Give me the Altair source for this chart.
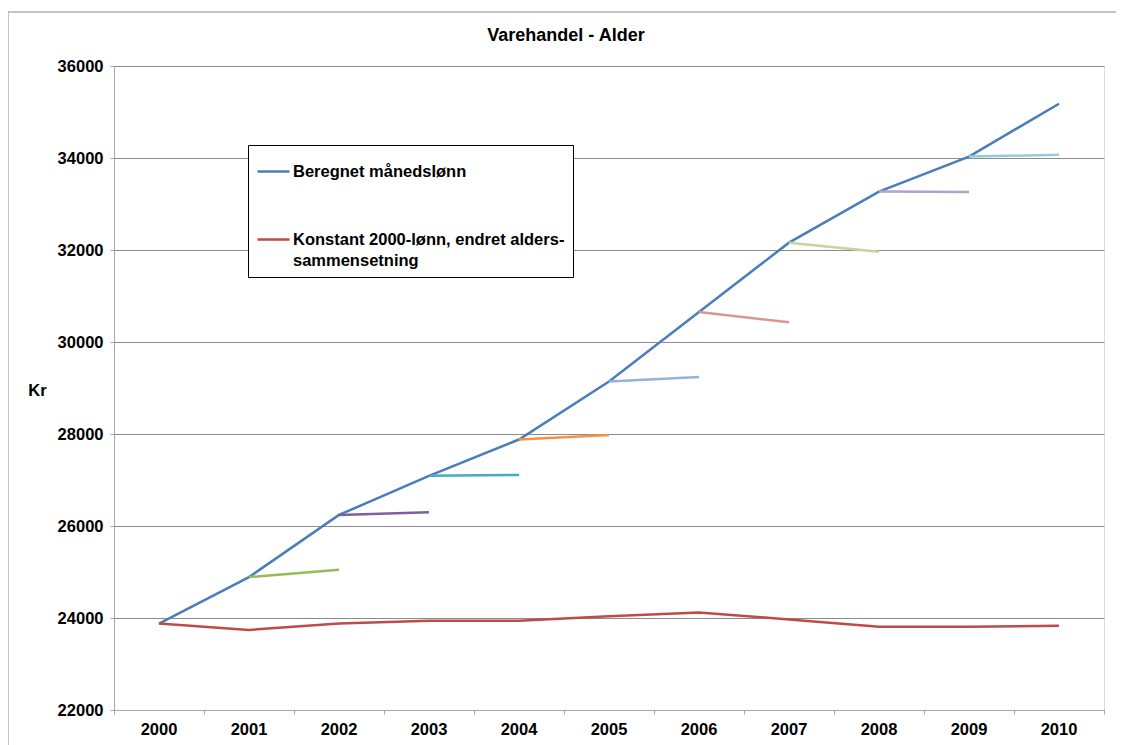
import altair as alt
import pandas as pd

years = [str(y) for y in range(2000, 2011)]
beregnet = [23880, 24890, 26240, 27090, 27880, 29140, 30650, 32160, 33270, 34030, 35180]
konstant = [23880, 23740, 23880, 23940, 23940, 24040, 24120, 23970, 23810, 23810, 23830]
seg_start_years = years[1:10]
seg_end_values = [25050, 26300, 27110, 27980, 29240, 30430, 31960, 33260, 34070]
seg_colors = ["#98B954", "#7D60A0", "#46AAC5", "#F69240", "#95B3D7",
              "#D99694", "#C3D69B", "#B3A2C7", "#93CDDD"]

S1 = "Beregnet månedslønn"
S2 = "Konstant 2000-lønn, endret alders-sammensetning"
main_colors = ["#4A7EBB", "#BE4B48"]
TITLE = "Varehandel - Alder"

rows = []
for y, v in zip(years, beregnet):
    rows.append({"year": y, "value": v, "series": S1})
for y, v in zip(years, konstant):
    rows.append({"year": y, "value": v, "series": S2})
seg_names = []
for i, y in enumerate(seg_start_years):
    name = "seg" + y
    seg_names.append(name)
    j = years.index(y)
    rows.append({"year": y, "value": beregnet[j], "series": name})
    rows.append({"year": years[j + 1], "value": seg_end_values[i], "series": name})
df = pd.DataFrame(rows)

FONT = "Liberation Sans"
FS = 16.5

color = alt.Color(
    "series:N",
    scale=alt.Scale(domain=[S1, S2] + seg_names, range=main_colors + seg_colors),
    legend=alt.Legend(
        values=[S1, S2],
        orient="none",
        legendX=134,
        legendY=79,
        title=" ",
        titleFontSize=1,
        titlePadding=0,
        padding=8,
        strokeColor="#000000",
        fillColor="#ffffff",
        symbolType="stroke",
        symbolSize=1024,
        symbolStrokeWidth=2.5,
        labelFont=FONT,
        labelFontSize=FS,
        labelFontWeight="bold",
        labelColor="#000000",
        labelOffset=2,
        labelLimit=400,
        rowPadding=42,
        labelExpr="datum.label == '" + S2 + "' ? ['Konstant 2000-lønn, endret alders-', 'sammensetning'] : datum.label",
    ),
)

x = alt.X(
    "year:O",
    scale=alt.Scale(type="band", paddingInner=0, paddingOuter=0),
    axis=alt.Axis(
        title=None,
        labelAngle=0,
        bandPosition=1,
        tickExtra=True,
        tickSize=4,
        labelPadding=7,
        labelFont=FONT,
        labelFontSize=FS,
        labelFontWeight="bold",
        labelColor="#000000",
        domainColor="#A6A6A6",
        tickColor="#A6A6A6",
        grid=False,
    ),
)
y = alt.Y(
    "value:Q",
    scale=alt.Scale(domain=[22000, 36000], nice=False, zero=False),
    axis=alt.Axis(
        title="Kr",
        titleAngle=0,
        titleX=-77,
        titleY=324,
        titleAlign="center",
        titleBaseline="middle",
        titleFont=FONT,
        titleFontSize=FS,
        titleFontWeight="bold",
        titleColor="#000000",
        values=list(range(22000, 36001, 2000)),
        format="d",
        tickSize=4,
        labelPadding=7,
        labelFont=FONT,
        labelFontSize=FS,
        labelFontWeight="bold",
        labelColor="#000000",
        domainColor="#A6A6A6",
        tickColor="#A6A6A6",
        gridColor="#8C8C8C",
        gridWidth=1,
    ),
)

one = pd.DataFrame({"a": [0]})

frame = alt.Chart(one).mark_rect(
    fill="#ffffff", fillOpacity=0, stroke="#8C8C8C", strokeWidth=1
).encode(
    x=alt.value(-106), x2=alt.value(1006), y=alt.value(-54), y2=alt.value(700)
)

title = alt.Chart(one).mark_text(
    font=FONT, fontSize=18, fontWeight="bold", color="#000000",
    align="center", baseline="middle"
).encode(x=alt.value(452), y=alt.value(-30), text=alt.value(TITLE))

lines = alt.Chart(df).mark_line(strokeWidth=2.5).encode(x=x, y=y, color=color)

chart = alt.layer(frame, title, lines).properties(
    width=990,
    height=644,
    padding={"left": 106, "top": 58, "right": 12, "bottom": 40},
    autosize=alt.AutoSizeParams(type="none"),
).configure_view(stroke=None).configure(style={"guide-label": {"lineHeight": 21}})

chart.save("out.html", embed_options={"renderer": "svg", "actions": False})
